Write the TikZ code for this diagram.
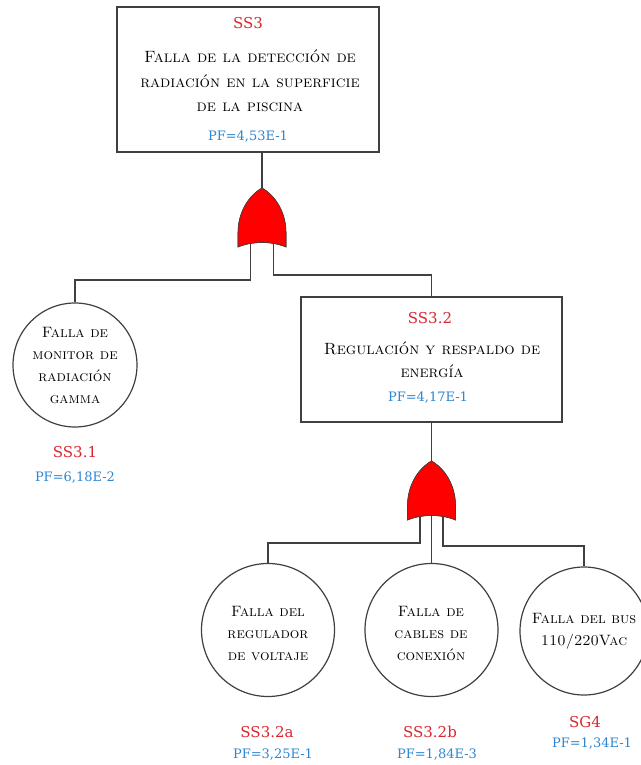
\documentclass[tikz,border=0pt]{standalone}
\usepackage{fontspec}
\newfontfamily\labelfont{DejaVu Serif}
\definecolor{idred}{RGB}{218,38,46}
\definecolor{pfblue}{RGB}{46,134,208}
\definecolor{gatered}{RGB}{255,0,0}
\definecolor{edge}{RGB}{64,64,64}

\newcommand{\capsweight}{\scshape\addfontfeatures{FakeBold=1}}

\tikzset{
  event/.style={draw=edge, line width=1.2pt, fill=white, rectangle, inner sep=0pt},
  basic/.style={draw=edge, line width=1.2pt, fill=white, circle, inner sep=0pt},
  bigtitle/.style={align=center, inner sep=0pt, font={\fontsize{16.4}{24.5}\selectfont\capsweight}},
  midtitle/.style={align=center, inner sep=0pt, font={\fontsize{16.3}{23}\selectfont\capsweight}},
  smalltitle/.style={align=center, inner sep=0pt, font={\fontsize{15}{22}\selectfont\capsweight}},
  ident/.style={inner sep=0pt, text=idred, font={\labelfont\fontsize{15}{18}\selectfont}},
  prob/.style={inner sep=0pt, text=pfblue, font={\labelfont\fontsize{13}{16}\selectfont}},
  wire/.style={draw=edge, line width=1.1pt},
  orgate/.pic={
    \coordinate (-tip) at (0,0);
    \coordinate (-left) at (-11.5,50);
    \coordinate (-mid) at (0,50);
    \coordinate (-right) at (11.5,50);
    \filldraw[fill=gatered, draw=edge, line width=0.6pt]
      (0,0) .. controls (14,8) and (24,25) .. (24,45) -- (24,59)
      .. controls (10,53) and (-10,53) .. (-24,59) -- (-24,45)
      .. controls (-24,25) and (-14,8) .. (0,0) -- cycle;
  }
}

\begin{document}
\begin{tikzpicture}[x=1pt, y=-1pt]
  \useasboundingbox (0,0) rectangle (640,765);

  % Top event
  \node[event, minimum width=262pt, minimum height=145pt] (ss3) at (248,79.5) {};
  \node[ident] (ss3id) at (248,23) {SS3};
  \node[bigtitle] (ss3txt) at (250,81) {Falla de la detección de\\radiación en la superficie\\de la piscina};
  \node[prob] (ss3pf) at (248,137) {PF=4,53E-1};

  % Intermediate event
  \node[event, minimum width=261pt, minimum height=125pt] (ss32) at (431.5,359.5) {};
  \node[ident] (ss32id) at (430,318) {SS3.2};
  \node[midtitle] (ss32txt) at (432,360) {Regulación y respaldo de\\energía};
  \node[prob] (ss32pf) at (428,398) {PF=4,17E-1};

  % Basic events
  \node[basic, minimum size=124pt] (ss31) at (75,365) {};
  \node[smalltitle] (ss31txt) at (75,366) {Falla de\\monitor de\\radiación\\gamma};
  \node[ident] (ss31id) at (75,452) {SS3.1};
  \node[prob] (ss31pf) at (75,478) {PF=6,18E-2};

  \node[basic, minimum size=133pt] (ss32a) at (268,630) {};
  \node[smalltitle] (ss32atxt) at (268,633) {Falla del\\regulador\\de voltaje};
  \node[ident] (ss32aid) at (267,732) {SS3.2a};
  \node[prob] (ss32apf) at (273,755) {PF=3,25E-1};

  \node[basic, minimum size=133pt] (ss32b) at (431.5,630) {};
  \node[smalltitle] (ss32btxt) at (431,633) {Falla de\\cables de\\conexión};
  \node[ident] (ss32bid) at (430,732) {SS3.2b};
  \node[prob] (ss32bpf) at (437,755) {PF=1,84E-3};

  \node[basic, minimum size=128pt] (sg4) at (584,631) {};
  \node[smalltitle] (sg4txt) at (584,631.5) {Falla del bus\\110/220Vac};
  \node[ident] (sg4id) at (585,722) {SG4};
  \node[prob] (sg4pf) at (592,744) {PF=1,34E-1};

  % Gate positions
  \coordinate (g1pos) at (262,188);
  \coordinate (g2pos) at (431.5,461);

  % Connectors (drawn beneath the gates)
  \path (g1pos) pic (g1) {orgate};
  \path (g2pos) pic (g2) {orgate};
  \draw[wire] (ss3.south -| g1-tip) -- (g1-tip);
  \draw[wire] (g1-left) -- ++(0,42) -| (ss31.north);
  \draw[wire] (g1-right) -- ++(0,37) -| (ss32.north);
  \draw[wire] (ss32.south) -- (g2-tip);
  \draw[wire] (g2-left) -- ++(0,32) -| (ss32a.north);
  \draw[wire] (g2-mid) -- (ss32b.north);
  \draw[wire] (g2-right) -- ++(0,35) -| (sg4.north);

  % OR gates on top
  \path (g1pos) pic {orgate};
  \path (g2pos) pic {orgate};
\end{tikzpicture}
\end{document}
